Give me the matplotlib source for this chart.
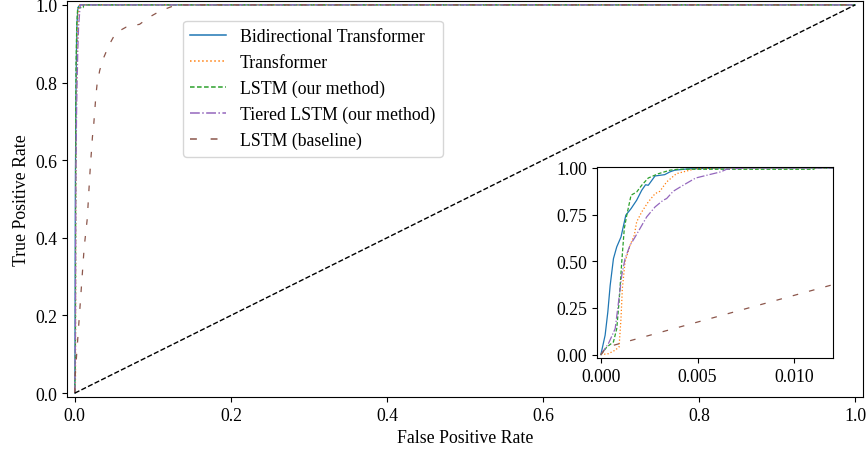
import matplotlib
matplotlib.use("Agg")
import matplotlib.pyplot as plt

plt.rcParams['font.family'] = ['Liberation Serif', 'DejaVu Serif']
plt.rcParams['font.size'] = 12.8

labels = ["Bidirectional Transformer", "Transformer", "LSTM (our method)",
          "Tiered LSTM (our method)", "LSTM (baseline)"]

bi_fpr = [0, 0.00022, 0.00036, 0.00048, 0.00065, 0.00082, 0.00104, 0.00129, 0.00156, 0.00185,
          0.00211, 0.00231, 0.00245, 0.0028, 0.0033, 0.00357, 0.00382, 0.0045, 0.0065, 1.0]
bi_tpr = [0, 0.104, 0.229, 0.37, 0.514, 0.577, 0.63, 0.747, 0.782, 0.827,
          0.88, 0.91, 0.907, 0.957, 0.964, 0.979, 0.988, 0.995, 1.0, 1.0]

tr_fpr = [0, 0.00039, 0.00074, 0.00094, 0.00104, 0.00111, 0.00125, 0.00151, 0.00173, 0.00185,
          0.00211, 0.00245, 0.0028, 0.00305, 0.0034, 0.0039, 0.0046, 0.0049, 0.0065, 1.0]
tr_tpr = [0, 0.005, 0.024, 0.041, 0.193, 0.354, 0.497, 0.586, 0.64, 0.711,
          0.764, 0.818, 0.862, 0.875, 0.925, 0.969, 0.988, 0.996, 1.0, 1.0]

lstm_fpr = [0, 0.00031, 0.00065, 0.00082, 0.00094, 0.00108, 0.00121, 0.00134, 0.00156, 0.00185,
            0.00211, 0.00245, 0.00297, 0.00357, 0.004, 0.011, 0.0111, 1.0]
lstm_tpr = [0, 0.041, 0.068, 0.139, 0.282, 0.497, 0.675, 0.747, 0.854, 0.871,
            0.907, 0.946, 0.969, 0.988, 0.993, 0.993, 1.0, 1.0]

tier_fpr = [0, 0.00039, 0.00074, 0.00087, 0.00108, 0.00125, 0.00151, 0.00177, 0.00202, 0.00237,
            0.0028, 0.00322, 0.0034, 0.00374, 0.00425, 0.0049, 0.0056, 0.0062, 0.0065, 0.0075, 1.0]
tier_tpr = [0, 0.059, 0.139, 0.246, 0.425, 0.514, 0.586, 0.63, 0.675, 0.738,
            0.791, 0.827, 0.836, 0.875, 0.907, 0.946, 0.964, 0.979, 0.993, 1.0, 1.0]

base_fpr = [0, 0.0003, 0.012, 0.016, 0.0183, 0.0201, 0.0214, 0.0226, 0.0243, 0.0256, 0.0269,
            0.0286, 0.032, 0.037, 0.044, 0.0525, 0.066, 0.083, 0.096, 0.11, 0.13, 1.0]
base_tpr = [0, 0.04, 0.375, 0.45, 0.53, 0.59, 0.625, 0.66, 0.693, 0.728, 0.763,
            0.797, 0.832, 0.864, 0.897, 0.928, 0.943, 0.95, 0.969, 0.985, 1.0, 1.0]

chance = [0, 1]

series = [(bi_fpr, bi_tpr, 'tab:blue', '-'),
          (tr_fpr, tr_tpr, 'tab:orange', ':'),
          (lstm_fpr, lstm_tpr, 'tab:green', (0, (3, 1.6))),
          (tier_fpr, tier_tpr, 'tab:purple', '-.'),
          (base_fpr, base_tpr, 'tab:brown', (0, (4.5, 9)))]

fig = plt.figure(figsize=(8.68, 4.52), dpi=100)
ax = fig.add_axes([67/868, 54/452, 796/868, 396/452])
for (x, y, c, ls), lab in zip(series, labels):
    ax.plot(x, y, color=c, linestyle=ls, linewidth=0.9, label=lab)
ax.plot(chance, chance, 'k--', linewidth=1)
ax.set_xlim(-0.01, 1.01)
ax.set_ylim(-0.01, 1.01)
ax.set_xlabel("False Positive Rate")
ax.set_ylabel("True Positive Rate")
leg = ax.legend(loc='upper left', bbox_to_anchor=(0.146, 0.95), borderaxespad=0)
for h in leg.get_lines():
    h.set_linewidth(1.1)

ins = fig.add_axes([597/868, 93/452, 236/868, 191/452])
for (x, y, c, ls), lab in zip(series, labels):
    ins.plot(x, y, color=c, linestyle=ls, linewidth=0.9)
ins.set_xlim(-0.0002, 0.012)
ins.set_ylim(-0.018, 1.005)
ins.set_xticks([0.0, 0.005, 0.010])
ins.set_xticklabels(["0.000", "0.005", "0.010"])
ins.set_yticks([0, 0.25, 0.5, 0.75, 1.0])
ins.set_yticklabels(["0.00", "0.25", "0.50", "0.75", "1.00"])

fig.savefig("out.png", dpi=100)
